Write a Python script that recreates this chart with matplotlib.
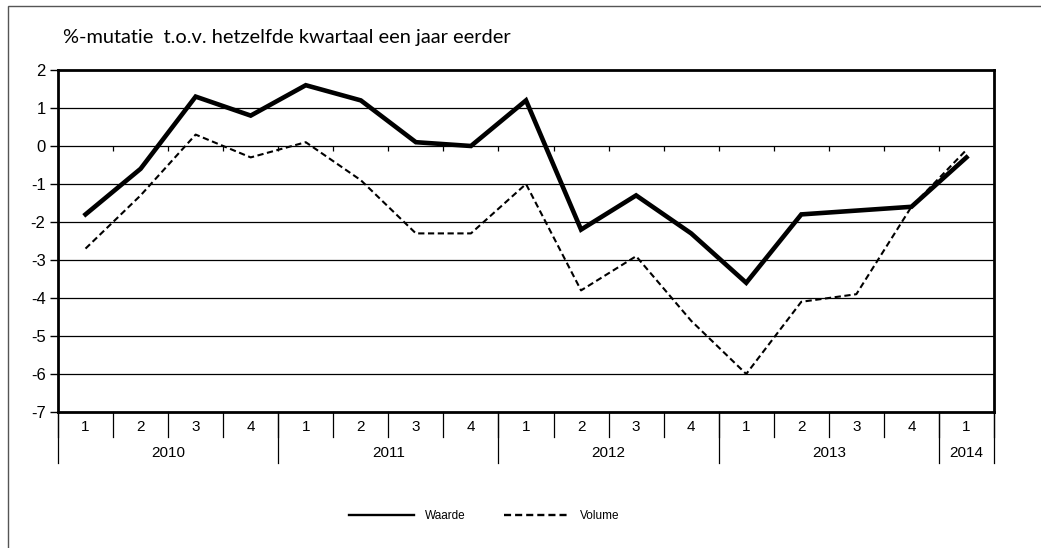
import matplotlib
matplotlib.use("Agg")
import matplotlib.pyplot as plt
from matplotlib.patches import Rectangle
import numpy as np

plt.rcParams["font.family"] = ["Liberation Sans", "DejaVu Sans"]

# data
years = ["2010", "2011", "2012", "2013", "2014"]
quarters_per_year = [4, 4, 4, 4, 1]
quarter_labels = ["1", "2", "3", "4"] * 4 + ["1"]
waarde = [-1.8, -0.6, 1.3, 0.8, 1.6, 1.2, 0.1, 0.0, 1.2, -2.2, -1.3, -2.3, -3.6, -1.8, -1.7, -1.6, -0.3]
volume = [-2.7, -1.3, 0.3, -0.3, 0.1, -0.9, -2.3, -2.3, -1.0, -3.8, -2.9, -4.6, -6.0, -4.1, -3.9, -1.6, -0.1]
y_ticks = list(range(-7, 3))

fig = plt.figure(figsize=(10.41, 5.48), dpi=100)
W, H = 1041, 548

# outer chart frame (runs off the right and bottom edge)
fig.patches.append(Rectangle((8 / W, -0.1), 1.2, 1 - 6 / H + 0.1, transform=fig.transFigure,
                             fill=False, edgecolor="#555555", linewidth=1.0))

ax = fig.add_axes([58 / W, 1 - 412 / H, (994 - 58) / W, (412 - 70) / H])
x = np.arange(len(waarde))

ax.plot(x, waarde, color="black", linewidth=3.3, solid_joinstyle="miter", label="Waarde", zorder=3)
ax.plot(x, volume, color="black", linewidth=1.5, linestyle=(0, (3, 1.7)), label="Volume", zorder=4)

ax.set_xlim(-0.5, len(x) - 0.5)
ax.set_ylim(-7, 2)
ax.set_yticks(y_ticks)
ax.set_yticklabels([str(v) for v in y_ticks], fontsize=12)
ax.tick_params(axis="y", direction="out", length=6, width=1, pad=3)
ax.set_xticks([])
for v in y_ticks[1:-1]:
    ax.axhline(v, color="black", linewidth=0.9, zorder=1)
for s in ax.spines.values():
    s.set_linewidth(2.0)

# small ticks hanging under the zero line at category boundaries
ax.vlines(np.arange(0.5, len(x) - 1), -0.14, 0, color="black", linewidth=0.9, zorder=1)

# two-level category axis
tr = ax.get_xaxis_transform()
bnd = np.arange(-0.5, len(x))
for b in bnd:
    ax.plot([b, b], [0, -0.073], transform=tr, color="black", linewidth=0.9, clip_on=False)
for xi, q in zip(x, quarter_labels):
    ax.text(xi, -0.044, q, transform=tr, ha="center", va="center", fontsize=11)
start = 0
year_bounds = [-0.5]
for yr, n in zip(years, quarters_per_year):
    ax.text(start + (n - 1) / 2, -0.12, yr, transform=tr, ha="center", va="center", fontsize=11)
    start += n
    year_bounds.append(start - 0.5)
for b in year_bounds:
    ax.plot([b, b], [0, -0.15], transform=tr, color="black", linewidth=0.9, clip_on=False)

fig.text(63 / W, 1 - 37 / H, "%-mutatie  t.o.v. hetzelfde kwartaal een jaar eerder",
         fontsize=14.4, family=["Lato", "DejaVu Sans"], va="center", ha="left")

leg = fig.legend(loc="center", bbox_to_anchor=(484 / W, 1 - 516 / H), ncol=2, frameon=False,
                 fontsize=8.5, handlelength=5.5, columnspacing=3.3, handletextpad=0.9)
for ln in leg.get_lines():
    ln.set_linewidth(1.7)

fig.savefig("out.png", dpi=100)
